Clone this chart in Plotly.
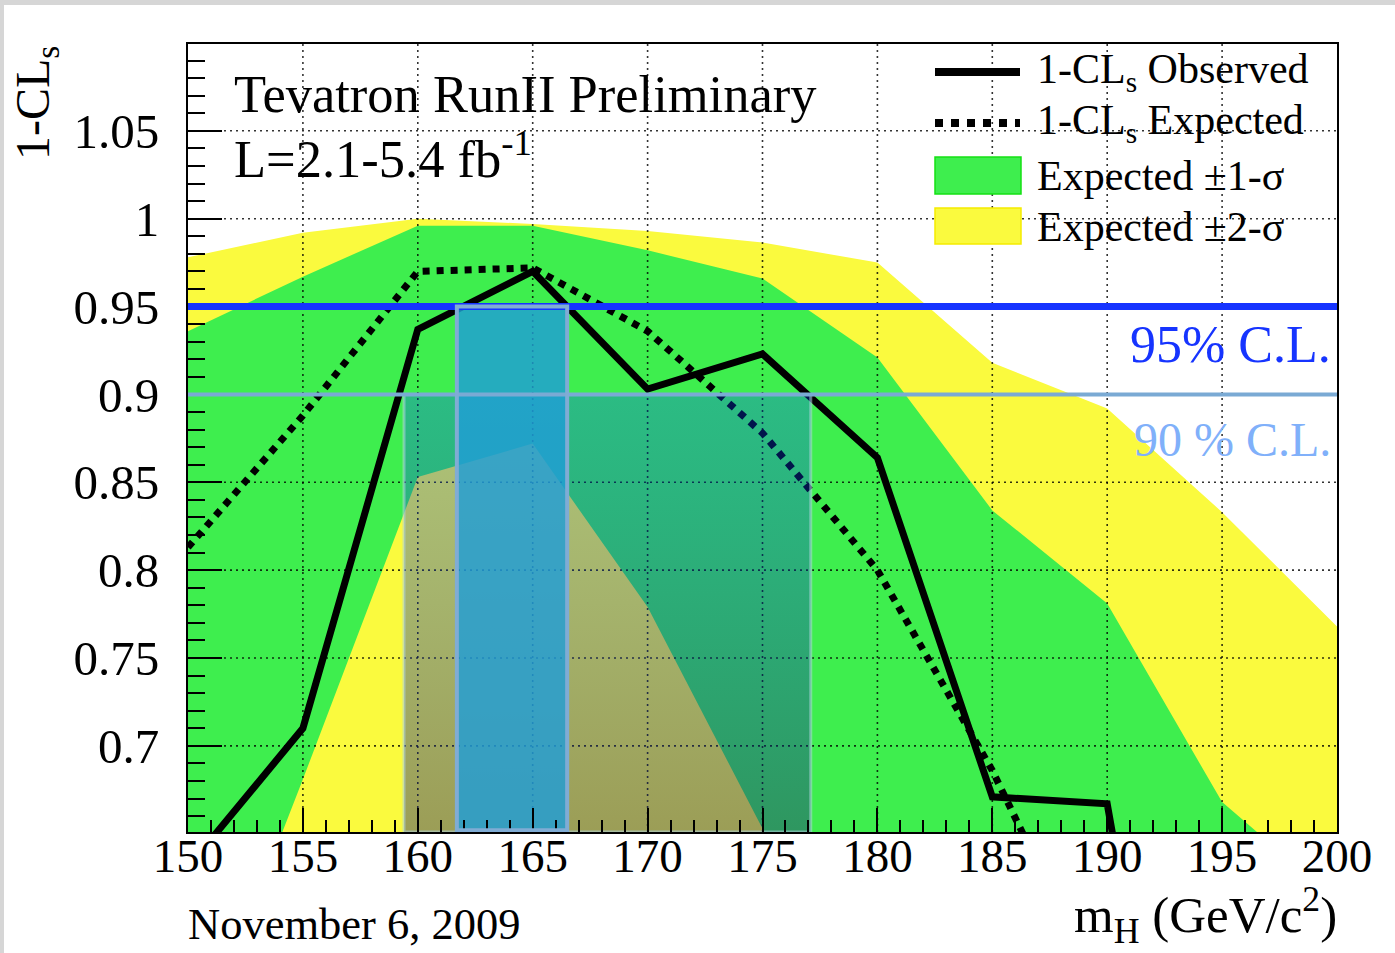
import plotly.graph_objects as go

# ---- data: 1-CLs versus Higgs mass (GeV/c^2) ----
mass = [150, 155, 160, 165, 170, 175, 180, 185, 190, 195, 200]
obs = [0.631, 0.710, 0.937, 0.970, 0.903, 0.923, 0.864, 0.671, 0.667, 0.30, 0.25]
exp_med = [0.813, 0.888, 0.970, 0.972, 0.936, 0.878, 0.800, 0.686, 0.551, 0.45, 0.38]
exp_m2 = [0.30, 0.45, 0.62, 0.64, 0.55, 0.45, 0.35, 0.25, 0.20, 0.15, 0.12]
exp_m1 = [0.513, 0.681, 0.853, 0.872, 0.779, 0.652, 0.527, 0.45, 0.40, 0.36, 0.32]
exp_p1 = [0.936, 0.967, 0.996, 0.996, 0.982, 0.966, 0.921, 0.834, 0.781, 0.668, 0.612]
exp_p2 = [0.978, 0.992, 1.000, 0.997, 0.993, 0.9865, 0.975, 0.918, 0.892, 0.833, 0.768]

# confidence-level thresholds and the mass windows where the observed curve exceeds them
cl95 = 0.95
cl90 = 0.90
excl95 = [161.7, 166.5]
excl90 = [159.4, 177.1]

x_ticks = [150, 155, 160, 165, 170, 175, 180, 185, 190, 195, 200]
y_ticks = [0.7, 0.75, 0.8, 0.85, 0.9, 0.95, 1.0, 1.05]
y_ticktext = ["0.7", "0.75", "0.8", "0.85", "0.9", "0.95", "1", "1.05"]

X_RANGE = [150, 200]
Y_RANGE = [0.651, 1.0994]

FONT = "Liberation Serif, Times New Roman, serif"
GREEN = "rgb(62,238,78)"
YELLOW = "rgb(250,250,62)"
BLUE95 = "rgb(22,52,255)"
BLUE90 = "rgb(122,170,212)"

# page geometry (pixels) used to place decorations in paper coordinates
W, H = 1395, 953
ML, MR, MT, MB = 188, 58, 44, 121
PW, PH = W - ML - MR, H - MT - MB


def px(xp):
    return (xp - ML) / PW


def py(yp):
    return (H - MB - yp) / PH


fig = go.Figure()

# +-2 sigma band
fig.add_trace(go.Scatter(x=mass, y=exp_m2, mode="lines", line=dict(width=0),
                         showlegend=False, hoverinfo="skip"))
fig.add_trace(go.Scatter(x=mass, y=exp_p2, mode="lines", line=dict(width=0),
                         fill="tonexty", fillcolor=YELLOW, showlegend=False))
# +-1 sigma band
fig.add_trace(go.Scatter(x=mass, y=exp_m1, mode="lines", line=dict(width=0),
                         showlegend=False, hoverinfo="skip"))
fig.add_trace(go.Scatter(x=mass, y=exp_p1, mode="lines", line=dict(width=0),
                         fill="tonexty", fillcolor=GREEN, showlegend=False))

# dotted grid drawn over the bands
gx, gy = [], []
for xv in x_ticks[1:-1]:
    gx += [xv, xv, None]
    gy += [Y_RANGE[0], Y_RANGE[1], None]
for yv in y_ticks:
    gx += [X_RANGE[0], X_RANGE[1], None]
    gy += [yv, yv, None]
fig.add_trace(go.Scatter(x=gx, y=gy, mode="lines",
                         line=dict(color="rgba(0,0,0,0.8)", width=1.6, dash="2px,4px"),
                         showlegend=False, hoverinfo="skip"))

# expected and observed 1-CLs
fig.add_trace(go.Scatter(x=mass, y=exp_med, mode="lines",
                         line=dict(color="black", width=7, dash="dot"), showlegend=False))
fig.add_trace(go.Scatter(x=mass, y=obs, mode="lines",
                         line=dict(color="black", width=7), showlegend=False))

# 90% C.L. excluded window (shaded, darker toward the bottom)
fig.add_trace(go.Scatter(
    x=[excl90[0], excl90[1], excl90[1], excl90[0], excl90[0]],
    y=[Y_RANGE[0], Y_RANGE[0], cl90, cl90, Y_RANGE[0]],
    mode="lines", fill="toself",
    line=dict(color="rgba(175,212,222,0.55)", width=3),
    fillgradient=dict(type="vertical", start=Y_RANGE[0], stop=cl90,
                      colorscale=[[0, "rgba(25,30,120,0.42)"], [1, "rgba(0,70,255,0.30)"]]),
    showlegend=False, hoverinfo="skip"))

# 95% C.L. excluded window
fig.add_trace(go.Scatter(
    x=[excl95[0], excl95[1], excl95[1], excl95[0], excl95[0]],
    y=[Y_RANGE[0], Y_RANGE[0], cl95, cl95, Y_RANGE[0]],
    mode="lines", fill="toself", fillcolor="rgba(32,158,215,0.82)",
    line=dict(width=0), showlegend=False, hoverinfo="skip"))

shapes = [
    # C.L. reference lines
    dict(type="line", xref="x", yref="y", x0=X_RANGE[0], x1=X_RANGE[1], y0=cl95, y1=cl95,
         line=dict(color=BLUE95, width=7), layer="above"),
    dict(type="line", xref="x", yref="y", x0=X_RANGE[0], x1=X_RANGE[1], y0=cl90, y1=cl90,
         line=dict(color=BLUE90, width=4), layer="above"),
    # outline of the 95% window
    dict(type="rect", xref="x", yref="y", x0=excl95[0], x1=excl95[1], y0=Y_RANGE[0] + 0.001,
         y1=cl95, line=dict(color="rgb(128,172,212)", width=4), layer="above"),
    # legend keys
    dict(type="line", xref="paper", yref="paper", x0=px(935), x1=px(1020), y0=py(72), y1=py(72),
         line=dict(color="black", width=8)),
    dict(type="line", xref="paper", yref="paper", x0=px(935), x1=px(1020), y0=py(123), y1=py(123),
         line=dict(color="black", width=8, dash="dot")),
    dict(type="rect", xref="paper", yref="paper", x0=px(935), x1=px(1021), y0=py(194), y1=py(157),
         fillcolor=GREEN, line=dict(color="rgb(20,225,20)", width=1.5)),
    dict(type="rect", xref="paper", yref="paper", x0=px(935), x1=px(1021), y0=py(244), y1=py(208),
         fillcolor=YELLOW, line=dict(color="rgb(245,235,0)", width=1.5)),
    # grey page edge
    dict(type="rect", xref="paper", yref="paper", x0=px(0), x1=px(W), y0=py(5), y1=py(0),
         fillcolor="rgb(214,214,214)", line=dict(width=0)),
    dict(type="rect", xref="paper", yref="paper", x0=px(0), x1=px(4), y0=py(H), y1=py(0),
         fillcolor="rgb(214,214,214)", line=dict(width=0)),
]

annotations = [
    dict(text="Tevatron RunII Preliminary", x=px(232), y=py(94), xanchor="left",
         yanchor="middle", font=dict(size=52.5)),
    dict(text="L=2.1-5.4 fb<sup>-1</sup>", x=px(232), y=py(155), xanchor="left",
         yanchor="middle", font=dict(size=52.5)),
    dict(text="1-CL<sub>s</sub> Observed", x=px(1035), y=py(72), xanchor="left",
         yanchor="middle", font=dict(size=42)),
    dict(text="1-CL<sub>s</sub> Expected", x=px(1035), y=py(123), xanchor="left",
         yanchor="middle", font=dict(size=42)),
    dict(text="Expected \u00b11-\u03c3", x=px(1035), y=py(176), xanchor="left",
         yanchor="middle", font=dict(size=42)),
    dict(text="Expected \u00b12-\u03c3", x=px(1035), y=py(227), xanchor="left",
         yanchor="middle", font=dict(size=42)),
    dict(text="95% C.L.", x=px(1333), y=py(344), xanchor="right", yanchor="middle",
         font=dict(size=52, color=BLUE95)),
    dict(text="90 % C.L.", x=px(1333), y=py(439), xanchor="right", yanchor="middle",
         font=dict(size=48, color="rgb(128,176,250)")),
    dict(text="1-CL<sub>s</sub>", x=px(36), y=py(103), xanchor="center", yanchor="middle",
         textangle=-90, font=dict(size=48)),
    dict(text="m<sub>H</sub> (GeV/c<sup>2</sup>)", x=px(1339), y=py(915), xanchor="right",
         yanchor="middle", font=dict(size=51)),
    dict(text="November 6, 2009", x=px(186), y=py(924), xanchor="left", yanchor="middle",
         font=dict(size=44.5)),
]
for a in annotations:
    a.update(xref="paper", yref="paper", showarrow=False)
    a["font"].setdefault("color", "black")
    a["font"]["family"] = FONT

fig.update_layout(
    width=W, height=H,
    margin=dict(l=ML, r=MR, t=MT, b=MB, pad=0),
    paper_bgcolor="white", plot_bgcolor="white",
    font=dict(family=FONT, color="black"),
    showlegend=False,
    shapes=shapes,
    annotations=annotations,
    xaxis=dict(range=X_RANGE, tickmode="array", tickvals=x_ticks,
               ticks="inside", ticklen=24, tickwidth=1.5, tickcolor="black",
               minor=dict(ticks="inside", ticklen=12, tickwidth=1.5, tickcolor="black",
                          tickmode="linear", tick0=150, dtick=1),
               showgrid=False, zeroline=False, showline=True, linecolor="black",
               linewidth=2, mirror=True, layer="above traces",
               tickfont=dict(size=47, family=FONT), ticklabelstandoff=-18),
    yaxis=dict(range=Y_RANGE, tickmode="array", tickvals=y_ticks, ticktext=y_ticktext,
               ticks="inside", ticklen=34, tickwidth=1.5, tickcolor="black",
               minor=dict(ticks="inside", ticklen=17, tickwidth=1.5, tickcolor="black",
                          tickmode="linear", tick0=0.65, dtick=0.01),
               showgrid=False, zeroline=False, showline=True, linecolor="black",
               linewidth=2, mirror=True, layer="above traces",
               tickfont=dict(size=49, family=FONT), ticklabelstandoff=17),
)

fig.write_html("out.html")
